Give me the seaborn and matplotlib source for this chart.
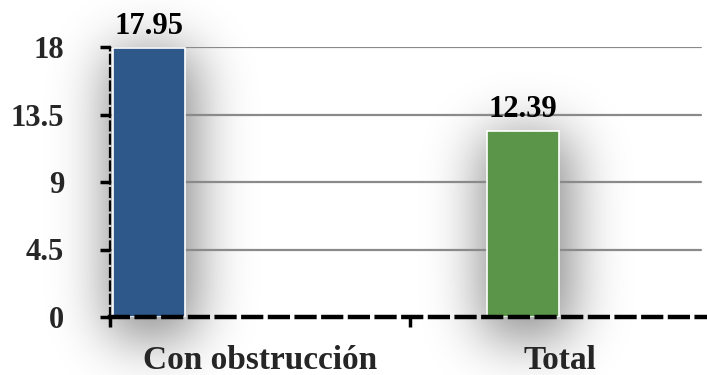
import numpy as np
import pandas as pd
import matplotlib
matplotlib.use("Agg")
import matplotlib.pyplot as plt
import seaborn as sns

categories = ["Con obstrucción", "Total"]
values = [17.95, 12.39]
bar_colors = ["#2E5889", "#5B9549"]
y_ticks = [0, 4.5, 9, 13.5, 18]
y_tick_labels = ["0", "4.5", "9", "13.5", "18"]

sns.set_theme(style="white")
plt.rcParams["font.family"] = ["Liberation Serif", "DejaVu Serif"]
plt.rcParams["font.weight"] = "bold"

W, H = 707, 375
fig = plt.figure(figsize=(W / 100, H / 100), dpi=100)
fig.patch.set_facecolor("white")

# background layer for the soft drop shadows
bg = fig.add_axes([0, 0, 1, 1], zorder=0)
bg.set_xlim(0, W)
bg.set_ylim(0, H)
bg.axis("off")

ax = fig.add_axes([110 / W, 58 / H, 597 / W, 270 / H], zorder=1)
ax.set_facecolor("none")

df = pd.DataFrame({"cat": categories, "val": values})
sns.barplot(data=df, x="cat", y="val", hue="cat", palette=bar_colors,
            saturation=1, width=0.193, edgecolor="white", linewidth=1.2,
            legend=False, ax=ax, zorder=3)

ax.set_xlim(-0.104, 1.492)
ax.set_ylim(0, 18)

# horizontal gridlines
for yv in y_ticks[1:]:
    ax.axhline(yv, xmin=0, xmax=0.99, color="#8a8a8a", lw=1.6, zorder=1)

# value labels
for cont in ax.containers:
    ax.bar_label(cont, fmt="%.2f", padding=5, fontsize=22,
                 fontweight="bold", color="black", clip_on=False)

# axes styling
for s in ["top", "right"]:
    ax.spines[s].set_visible(False)
ax.spines["left"].set_linestyle((0, (4, 2)))
ax.spines["left"].set_linewidth(1.6)
ax.spines["left"].set_color("black")
ax.spines["bottom"].set_linestyle((0, (4, 2)))
ax.spines["bottom"].set_linewidth(3.2)
ax.spines["bottom"].set_color("black")
ax.spines["left"].set_zorder(4)
ax.spines["bottom"].set_zorder(4)

ax.set_yticks(y_ticks)
ax.set_yticklabels(y_tick_labels, fontsize=22, fontweight="bold")
ax.tick_params(axis="y", direction="out", length=7, width=2.5, color="black",
               pad=26, left=True)

ax.set_xticks([0.297, 1.099])
ax.set_xticklabels(categories, fontsize=24, fontweight="bold")
ax.set_xticks([-0.104, 0.698], minor=True)
ax.tick_params(axis="x", which="major", length=0, pad=20)
ax.tick_params(axis="x", which="minor", direction="out", length=7, width=2.5,
               color="black", bottom=True)
ax.set_xlabel("")
ax.set_ylabel("")

# build blurred shadows from the bar extents
fig.canvas.draw()
alpha = np.zeros((H, W))
for p in ax.patches:
    bb = p.get_window_extent()
    x0, x1 = int(bb.x0) - 2, int(bb.x1) + 10
    y0, y1 = int(bb.y0) - 20, int(bb.y1) - 4
    alpha[max(y0, 0):min(y1, H), max(x0, 0):min(x1, W)] = 1.0

sigma = 28
r = np.arange(-3 * sigma, 3 * sigma + 1)
k = np.exp(-0.5 * (r / sigma) ** 2)
k /= k.sum()
alpha = np.apply_along_axis(lambda v: np.convolve(v, k, mode="same"), 1, alpha)
alpha = np.apply_along_axis(lambda v: np.convolve(v, k, mode="same"), 0, alpha)
rgba = np.zeros((H, W, 4))
rgba[..., 3] = np.clip(alpha * 0.5, 0, 1)
bg.imshow(rgba, origin="lower", extent=[0, W, 0, H], aspect="auto",
          interpolation="bilinear")
bg.set_xlim(0, W)
bg.set_ylim(0, H)

fig.savefig("out.png", dpi=100, facecolor="white")
